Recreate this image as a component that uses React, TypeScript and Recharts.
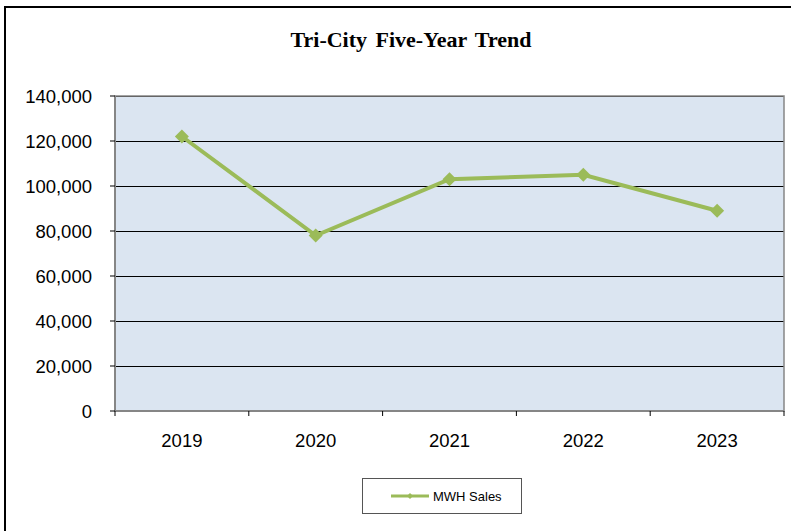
import {
  CartesianGrid,
  Legend,
  Line,
  LineChart,
  ReferenceArea,
  XAxis,
  YAxis,
} from 'recharts';

// Tri-City five-year MWH sales trend, Excel 2007 style line chart.

const YEARS = ['2019', '2020', '2021', '2022', '2023'];
const MWH_SALES = [122000, 78000, 103000, 105000, 89000];
const Y_TICKS = [0, 20000, 40000, 60000, 80000, 100000, 120000, 140000];
const BAND_EDGES = [0, 1, 2, 3, 4, 5];

const LINE_COLOR = '#9bbb59';
const AXIS_COLOR = '#868686';
const PLOT_FILL = '#dbe5f1';
const FONT = '"Liberation Sans", Arial, sans-serif';

// slot = band index; the number axis uses it to put tick marks between years
const data = YEARS.map((year, i) => ({ year, slot: i + 0.5, sales: MWH_SALES[i] }));

function Diamond(props: { cx?: number; cy?: number; index?: number }) {
  const { cx, cy, index } = props;
  if (cx == null || cy == null) return null;
  const r = 7;
  return (
    <polygon
      key={`d-${index}`}
      points={`${cx},${cy - r} ${cx + r},${cy} ${cx},${cy + r} ${cx - r},${cy}`}
      fill={LINE_COLOR}
    />
  );
}

function LegendBox() {
  return (
    <div
      style={{
        boxSizing: 'border-box',
        width: 160,
        height: 36,
        border: '1px solid #555',
        display: 'flex',
        alignItems: 'center',
        fontFamily: FONT,
        fontSize: 13,
        color: '#000',
        background: '#fff',
        whiteSpace: 'nowrap',
      }}
    >
      <svg width={40} height={10} style={{ marginLeft: 27, marginRight: 3 }}>
        <line x1={1} y1={5} x2={39} y2={5} stroke={LINE_COLOR} strokeWidth={3} />
        <polygon points="20,2 23,5 20,8 17,5" fill={LINE_COLOR} />
      </svg>
      <span>MWH Sales</span>
    </div>
  );
}

export default function App() {
  return (
    <div
      style={{
        position: 'absolute',
        left: 0,
        top: 0,
        width: 791,
        height: 531,
        overflow: 'hidden',
        background: '#fff',
      }}
    >
      <style>{`.recharts-cartesian-grid-horizontal line { shape-rendering: crispEdges; }`}</style>
      <div
        style={{
          position: 'absolute',
          left: 4,
          top: 6,
          width: 820,
          height: 560,
          borderTop: '2px solid #000',
          borderLeft: '2px solid #000',
        }}
      />
      <div
        style={{
          position: 'absolute',
          left: 0,
          width: 822,
          top: 27,
          textAlign: 'center',
          fontFamily: '"Liberation Serif", "Times New Roman", serif',
          fontWeight: 'bold',
          fontSize: 22,
          wordSpacing: 3,
          color: '#000',
        }}
      >
        Tri-City Five-Year Trend
      </div>
      <div style={{ position: 'absolute', left: 0, top: 0 }}>
        <LineChart
          width={791}
          height={531}
          data={data}
          margin={{ top: 96, right: 7, bottom: 17, left: 15 }}
        >
          <CartesianGrid vertical={false} stroke="#000" fill={PLOT_FILL} fillOpacity={1} />
          <XAxis
            xAxisId="axis0"
            dataKey="slot"
            type="number"
            domain={[0, 5]}
            allowDataOverflow
            ticks={BAND_EDGES}
            interval={0}
            height={1}
            tick={() => <g />}
            tickSize={5}
            tickLine={{ stroke: '#000' }}
            axisLine={{ stroke: AXIS_COLOR, strokeWidth: 2 }}
          />
          <XAxis
            xAxisId="axis1"
            dataKey="year"
            scale="band"
            height={66}
            tickLine={false}
            axisLine={false}
            tickMargin={16}
            tick={{ fill: '#000', fontSize: 18.5, fontFamily: FONT }}
          />
          <YAxis
            domain={[0, 140000]}
            ticks={Y_TICKS}
            width={100}
            tickSize={5}
            tickMargin={18}
            tickLine={{ stroke: '#000' }}
            axisLine={{ stroke: AXIS_COLOR, strokeWidth: 2 }}
            tick={{ fill: '#000', fontSize: 18.5, fontFamily: FONT }}
            tickFormatter={(v: number) => v.toLocaleString('en-US')}
          />
          <ReferenceArea
            xAxisId="axis0"
            x1={0}
            x2={5}
            y1={0}
            y2={140000}
            fill="none"
            stroke={AXIS_COLOR}
            strokeWidth={1.5}
            ifOverflow="visible"
          />
          <Line
            xAxisId="axis1"
            dataKey="sales"
            name="MWH Sales"
            stroke={LINE_COLOR}
            strokeWidth={4}
            dot={Diamond}
            activeDot={false}
            isAnimationActive={false}
          />
          <Legend
            verticalAlign="bottom"
            content={() => <LegendBox />}
            wrapperStyle={{ left: 362, width: 160, height: 36 }}
          />
        </LineChart>
      </div>
    </div>
  );
}
